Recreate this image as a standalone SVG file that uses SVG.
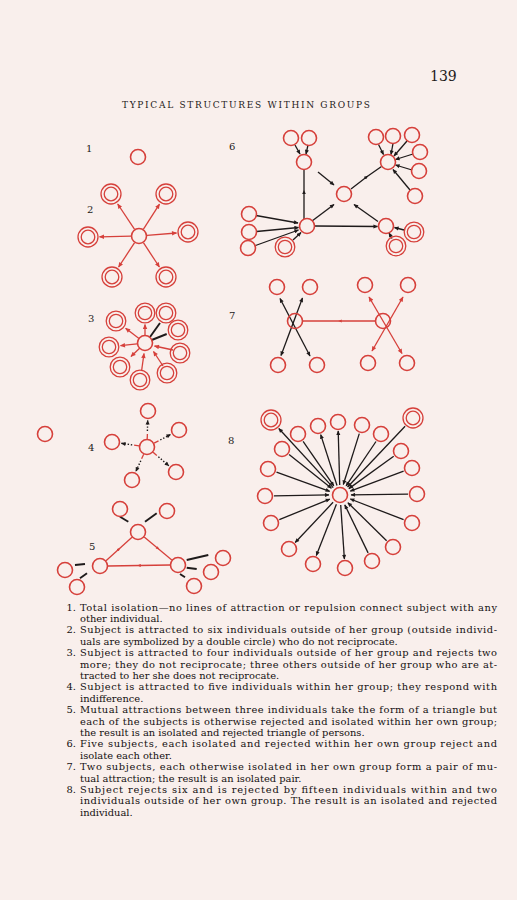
<svg xmlns="http://www.w3.org/2000/svg" width="517" height="900" viewBox="0 0 517 900">
<style>
.bg{fill:#f9efec}
.c{fill:none;stroke:#d6403b;stroke-width:1.6}
.o{fill:none;stroke:#d6403b;stroke-width:1.3}
.r{fill:none;stroke:#d6403b;stroke-width:1.3}
.k{fill:none;stroke:#1e1a1a;stroke-width:1.3}
.kt{fill:none;stroke:#1e1a1a;stroke-width:1.9}
.kd{fill:none;stroke:#1e1a1a;stroke-width:1.4;stroke-dasharray:1.4 1.8}
.ra{marker-end:url(#ar)}
.ka{marker-end:url(#ak)}
.kas{marker-start:url(#ak)}
.ras{marker-start:url(#ar)}
.rm{marker-mid:url(#am)}
.km{marker-mid:url(#akm)}
.t{font-family:"DejaVu Serif","Liberation Serif",serif;font-size:9.9px;fill:#141010}
.lb{font-family:"DejaVu Serif","Liberation Serif",serif;font-size:10px;fill:#1e1a1a}
</style>
<defs>
<marker id="ar" viewBox="0 0 10 10" refX="9" refY="5" markerWidth="6" markerHeight="5" markerUnits="userSpaceOnUse" orient="auto-start-reverse"><path d="M0,0.5 L10,5 L0,9.5 z" fill="#d6403b"/></marker>
<marker id="ak" viewBox="0 0 10 10" refX="9" refY="5" markerWidth="5.5" markerHeight="4.5" markerUnits="userSpaceOnUse" orient="auto-start-reverse"><path d="M0,0.5 L10,5 L0,9.5 z" fill="#1e1a1a"/></marker>
<marker id="am" viewBox="0 0 10 10" refX="5" refY="5" markerWidth="4" markerHeight="3.5" markerUnits="userSpaceOnUse" orient="auto"><path d="M0,0.5 L10,5 L0,9.5 z" fill="#d6403b"/></marker>
<marker id="akm" viewBox="0 0 10 10" refX="5" refY="5" markerWidth="4.5" markerHeight="4" markerUnits="userSpaceOnUse" orient="auto"><path d="M0,0.5 L10,5 L0,9.5 z" fill="#1e1a1a"/></marker>
<g id="dbl"><circle r="10" class="o"/><circle r="6.8" class="o"/></g>
<g id="dbs"><circle r="9.8" class="o"/><circle r="6.7" class="o"/></g>
<circle id="sg" r="7.5" class="c"/>
</defs>
<rect class="bg" x="0" y="0" width="517" height="900"/>

<text x="430" y="81" font-family="DejaVu Serif, Liberation Serif, serif" font-size="14" fill="#1e1a1a">139</text>
<text x="122" y="108" font-family="DejaVu Serif, Liberation Serif, serif" font-size="9" fill="#1e1a1a" textLength="248" lengthAdjust="spacing">TYPICAL STRUCTURES WITHIN GROUPS</text>

<g id="labels" class="lb">
<text x="86" y="152">1</text><text x="87" y="213">2</text><text x="88" y="322">3</text><text x="88" y="451">4</text><text x="89" y="550">5</text>
<text x="229" y="150">6</text><text x="229" y="319">7</text><text x="228" y="444">8</text>
</g>

<g id="connectors">
<!-- diagram 2 -->
<line class="r ra" x1="134.6" y1="229.3" x2="117.7" y2="204"/>
<line class="r ra" x1="143.3" y1="229.3" x2="159.5" y2="204.1"/>
<line class="r ra" x1="131" y1="236.2" x2="99.5" y2="236.8"/>
<line class="r ra" x1="147" y1="235.4" x2="176.5" y2="233"/>
<line class="r ra" x1="134.6" y1="242.7" x2="118.6" y2="267"/>
<line class="r ra" x1="143.4" y1="242.7" x2="159.4" y2="267"/>
<!-- diagram 3 -->
<line class="r ra" x1="145" y1="335" x2="145" y2="324.5"/>
<line class="r ra" x1="139" y1="338.5" x2="125.6" y2="328.3"/>
<line class="r ra" x1="137" y1="343.9" x2="120.5" y2="345.7"/>
<line class="r ra" x1="139.6" y1="348.2" x2="131" y2="356.5"/>
<line class="kt" x1="150" y1="337" x2="160" y2="323"/>
<line class="kt" x1="151.7" y1="340" x2="166.7" y2="334"/>
<line class="r ra" x1="173" y1="350" x2="154.5" y2="346"/>
<line class="r ra" x1="163" y1="366" x2="153.5" y2="351.5"/>
<line class="r ra" x1="141.7" y1="370" x2="144" y2="353.5"/>
<!-- diagram 4 -->
<line class="r" x1="147.2" y1="439" x2="147.4" y2="434"/>
<line class="kd ka" x1="147.4" y1="431" x2="147.7" y2="420.5"/>
<line class="r" x1="154.1" y1="443.2" x2="158.5" y2="440.9"/>
<line class="kd ka" x1="160.3" y1="439.9" x2="170.6" y2="434.5"/>
<line class="r" x1="139.1" y1="445.9" x2="134.1" y2="445.2"/>
<line class="kd ka" x1="132.2" y1="444.9" x2="121.4" y2="443.3"/>
<line class="r" x1="143.7" y1="454.3" x2="141.6" y2="458.8"/>
<line class="kd ka" x1="140.8" y1="460.7" x2="135.9" y2="471.3"/>
<line class="r" x1="153.1" y1="452.2" x2="156.8" y2="455.5"/>
<line class="kd ka" x1="158.4" y1="456.8" x2="168.8" y2="465.8"/>
<!-- diagram 5 -->
<polyline class="r rm" points="106,560.7 119,549 132,537.3"/>
<polyline class="r rm" points="144.2,537.1 158,548.5 171.8,559.9"/>
<polyline class="r rm" points="170,565 139,565.5 108,566"/>
<line class="kt" x1="120" y1="516.7" x2="128.3" y2="521.7"/>
<line class="kt" x1="156.7" y1="513.3" x2="145" y2="521.7"/>
<line class="kt" x1="75" y1="565" x2="85" y2="564"/>
<line class="kt" x1="80" y1="578.3" x2="87" y2="573.3"/>
<line class="kt" x1="208.3" y1="555" x2="186.7" y2="560"/>
<line class="kt" x1="196.7" y1="569" x2="186.7" y2="567.7"/>
<line class="kt" x1="185" y1="577.3" x2="180" y2="574"/>
<!-- diagram 6 -->
<line class="k ka" x1="295" y1="145" x2="300" y2="154"/>
<line class="k ka" x1="308" y1="145" x2="306" y2="154"/>
<line class="k ka" x1="318" y1="172" x2="334" y2="185"/>
<polyline class="k km" points="304,219 304,192 304,169.5"/>
<polyline class="k km" points="351,189 366.5,177 381.5,166.5"/>
<line class="k ka" x1="312" y1="221" x2="334" y2="204.5"/>
<line class="k ka" x1="378" y1="221.5" x2="354" y2="204.5"/>
<line class="k ka" x1="315" y1="226" x2="377.5" y2="226.5"/>
<line class="k ka" x1="256" y1="215.5" x2="298" y2="223"/>
<line class="k ka" x1="256.5" y1="231.5" x2="298.5" y2="227.5"/>
<line class="k ka" x1="255.5" y1="245.5" x2="298.5" y2="230"/>
<line class="k ka" x1="293" y1="240" x2="301" y2="232.5"/>
<line class="k ka" x1="404" y1="230" x2="394.5" y2="227.5"/>
<line class="k ka" x1="392" y1="238.5" x2="389" y2="233"/>
<line class="k ka" x1="378.5" y1="144.5" x2="383.5" y2="154.5"/>
<line class="k ka" x1="393" y1="143.5" x2="391" y2="154.5"/>
<line class="k ka" x1="407" y1="141" x2="394" y2="156"/>
<line class="k ka" x1="413" y1="154" x2="395.5" y2="159.5"/>
<line class="k ka" x1="412" y1="170" x2="395.5" y2="165"/>
<line class="k ka" x1="410" y1="190" x2="393" y2="169.5"/>
<!-- diagram 7 -->
<line class="k ka kas" x1="280" y1="298.5" x2="310" y2="356"/>
<line class="k ka kas" x1="302.5" y1="298" x2="281" y2="355.5"/>
<line class="r ra ras" x1="369" y1="297" x2="402" y2="353.5"/>
<line class="r ra ras" x1="403" y1="297" x2="372" y2="351"/>
<polyline class="r rm" points="375,321 340,321 303,321"/>
<!-- diagram 8 -->
<line class="k ka" x1="333.2" y1="487.6" x2="278.8" y2="428.5"/>
<line class="k ka" x1="289.1" y1="454.6" x2="331.4" y2="488.2"/>
<line class="k ka" x1="303.1" y1="441.4" x2="333.8" y2="485.9"/>
<line class="k ka" x1="337" y1="485.5" x2="320.7" y2="434.6"/>
<line class="k ka" x1="339.7" y1="485" x2="338.2" y2="431"/>
<line class="k ka" x1="359.3" y1="433.6" x2="343.3" y2="484.5"/>
<line class="k ka" x1="376" y1="441.5" x2="346.1" y2="485.9"/>
<line class="k ka" x1="405.1" y1="426.3" x2="347.6" y2="487"/>
<line class="k ka" x1="393.7" y1="456.3" x2="348.9" y2="488.6"/>
<line class="k ka" x1="403.6" y1="471.2" x2="350.3" y2="491.1"/>
<line class="k ka" x1="408" y1="494.1" x2="351" y2="494.9"/>
<line class="k ka" x1="403.6" y1="519.7" x2="350.3" y2="499"/>
<line class="k ka" x1="386.6" y1="540.7" x2="347.9" y2="502.7"/>
<line class="k ka" x1="368.1" y1="552.9" x2="344.8" y2="504.9"/>
<line class="k ka" x1="340.7" y1="505" x2="344.4" y2="559"/>
<line class="k ka" x1="336.4" y1="504.3" x2="316.3" y2="555.6"/>
<line class="k ka" x1="333.1" y1="502.3" x2="295.2" y2="542.5"/>
<line class="k ka" x1="279.3" y1="519.6" x2="329.8" y2="499.1"/>
<line class="k ka" x1="274" y1="495.9" x2="329" y2="494.9"/>
<line class="k ka" x1="276.5" y1="472.1" x2="329.7" y2="491.3"/>
</g>

<!-- diagram 1 -->
<g id="d1-subject"><use href="#sg" x="138" y="157"/></g>
<!-- diagram 2 -->
<g id="d2-subject"><use href="#sg" x="139" y="236"/></g>
<g id="d2-o1"><use href="#dbl" x="111" y="194"/></g>
<g id="d2-o2"><use href="#dbl" x="166" y="194"/></g>
<g id="d2-o3"><use href="#dbl" x="88" y="237"/></g>
<g id="d2-o4"><use href="#dbl" x="188" y="232"/></g>
<g id="d2-o5"><use href="#dbl" x="112" y="277"/></g>
<g id="d2-o6"><use href="#dbl" x="166" y="277"/></g>
<!-- diagram 3 -->
<g id="d3-subject"><use href="#sg" x="145" y="343"/></g>
<g id="d3-o1"><use href="#dbs" x="145" y="313"/></g>
<g id="d3-o2"><use href="#dbs" x="166" y="313"/></g>
<g id="d3-o3"><use href="#dbs" x="178" y="330"/></g>
<g id="d3-o4"><use href="#dbs" x="180" y="353"/></g>
<g id="d3-o5"><use href="#dbs" x="167" y="373"/></g>
<g id="d3-o6"><use href="#dbs" x="140" y="380"/></g>
<g id="d3-o7"><use href="#dbs" x="120" y="367"/></g>
<g id="d3-o8"><use href="#dbs" x="109" y="347"/></g>
<g id="d3-o9"><use href="#dbs" x="116" y="321"/></g>
<!-- diagram 4 -->
<g id="d4-isolate"><use href="#sg" x="45" y="434"/></g>
<g id="d4-subject"><use href="#sg" x="147" y="447"/></g>
<g id="d4-m1"><use href="#sg" x="148" y="411"/></g>
<g id="d4-m2"><use href="#sg" x="179" y="430"/></g>
<g id="d4-m3"><use href="#sg" x="112" y="442"/></g>
<g id="d4-m4"><use href="#sg" x="132" y="480"/></g>
<g id="d4-m5"><use href="#sg" x="176" y="472"/></g>
<!-- diagram 5 -->
<g id="d5-top"><use href="#sg" x="138" y="532"/></g>
<g id="d5-left"><use href="#sg" x="100" y="566"/></g>
<g id="d5-right"><use href="#sg" x="178" y="565"/></g>
<g id="d5-m1"><use href="#sg" x="120" y="509"/></g>
<g id="d5-m2"><use href="#sg" x="167" y="511"/></g>
<g id="d5-m3"><use href="#sg" x="65" y="570"/></g>
<g id="d5-m4"><use href="#sg" x="77" y="587"/></g>
<g id="d5-m5"><use href="#sg" x="223" y="558"/></g>
<g id="d5-m6"><use href="#sg" x="211" y="572"/></g>
<g id="d5-m7"><use href="#sg" x="194" y="586"/></g>
<!-- diagram 6 -->
<g id="d6-a"><use href="#sg" x="304" y="162"/></g>
<g id="d6-b"><use href="#sg" x="344" y="194"/></g>
<g id="d6-c"><use href="#sg" x="388" y="162"/></g>
<g id="d6-d"><use href="#sg" x="307" y="226"/></g>
<g id="d6-e"><use href="#sg" x="386" y="226"/></g>
<g id="d6-a1"><use href="#sg" x="291" y="138"/></g>
<g id="d6-a2"><use href="#sg" x="309" y="138"/></g>
<g id="d6-c1"><use href="#sg" x="376" y="137"/></g>
<g id="d6-c2"><use href="#sg" x="393" y="136"/></g>
<g id="d6-c3"><use href="#sg" x="412" y="135"/></g>
<g id="d6-c4"><use href="#sg" x="420" y="152"/></g>
<g id="d6-c5"><use href="#sg" x="419" y="171"/></g>
<g id="d6-c6"><use href="#sg" x="415" y="196"/></g>
<g id="d6-d1"><use href="#sg" x="249" y="214"/></g>
<g id="d6-d2"><use href="#sg" x="249" y="232"/></g>
<g id="d6-d3"><use href="#sg" x="248" y="248"/></g>
<g id="d6-d4"><use href="#dbs" x="285" y="247"/></g>
<g id="d6-e1"><use href="#dbs" x="414" y="232"/></g>
<g id="d6-e2"><use href="#dbs" x="396" y="246"/></g>
<!-- diagram 7 -->
<g id="d7-left"><use href="#sg" x="295" y="321"/></g>
<g id="d7-right"><use href="#sg" x="383" y="321"/></g>
<g id="d7-l1"><use href="#sg" x="277" y="287"/></g>
<g id="d7-l2"><use href="#sg" x="310" y="287"/></g>
<g id="d7-l3"><use href="#sg" x="278" y="365"/></g>
<g id="d7-l4"><use href="#sg" x="317" y="365"/></g>
<g id="d7-r1"><use href="#sg" x="365" y="285"/></g>
<g id="d7-r2"><use href="#sg" x="408" y="285"/></g>
<g id="d7-r3"><use href="#sg" x="368" y="363"/></g>
<g id="d7-r4"><use href="#sg" x="407" y="363"/></g>
<!-- diagram 8 -->
<g id="d8-subject"><use href="#sg" x="340" y="495"/></g>
<g id="d8-o1"><use href="#dbl" x="271" y="420"/></g>
<g id="d8-o2"><use href="#dbl" x="413" y="418"/></g>
<g id="d8-m1"><use href="#sg" x="282" y="449"/></g>
<g id="d8-m2"><use href="#sg" x="298" y="434"/></g>
<g id="d8-m3"><use href="#sg" x="318" y="426"/></g>
<g id="d8-m4"><use href="#sg" x="338" y="422"/></g>
<g id="d8-m5"><use href="#sg" x="362" y="425"/></g>
<g id="d8-m6"><use href="#sg" x="381" y="434"/></g>
<g id="d8-m7"><use href="#sg" x="401" y="451"/></g>
<g id="d8-m8"><use href="#sg" x="412" y="468"/></g>
<g id="d8-m9"><use href="#sg" x="417" y="494"/></g>
<g id="d8-m10"><use href="#sg" x="412" y="523"/></g>
<g id="d8-m11"><use href="#sg" x="393" y="547"/></g>
<g id="d8-m12"><use href="#sg" x="372" y="561"/></g>
<g id="d8-m13"><use href="#sg" x="345" y="568"/></g>
<g id="d8-m14"><use href="#sg" x="313" y="564"/></g>
<g id="d8-m15"><use href="#sg" x="289" y="549"/></g>
<g id="d8-m16"><use href="#sg" x="271" y="523"/></g>
<g id="d8-m17"><use href="#sg" x="265" y="496"/></g>
<g id="d8-m18"><use href="#sg" x="268" y="469"/></g>

<g id="legend" class="t">
<text x="76" y="610.5" text-anchor="end">1.</text>
<text x="80" y="610.5" textLength="417" lengthAdjust="spacing">Total isolation—no lines of attraction or repulsion connect subject with any</text>
<text x="80" y="621.9">other individual.</text>
<text x="76" y="633.3" text-anchor="end">2.</text>
<text x="80" y="633.3" textLength="417" lengthAdjust="spacing">Subject is attracted to six individuals outside of her group (outside individ-</text>
<text x="80" y="644.7">uals are symbolized by a double circle) who do not reciprocate.</text>
<text x="76" y="656.1" text-anchor="end">3.</text>
<text x="80" y="656.1" textLength="417" lengthAdjust="spacing">Subject is attracted to four individuals outside of her group and rejects two</text>
<text x="80" y="667.5" textLength="417" lengthAdjust="spacing">more; they do not reciprocate; three others outside of her group who are at-</text>
<text x="80" y="678.9">tracted to her she does not reciprocate.</text>
<text x="76" y="690.3" text-anchor="end">4.</text>
<text x="80" y="690.3" textLength="417" lengthAdjust="spacing">Subject is attracted to five individuals within her group; they respond with</text>
<text x="80" y="701.7">indifference.</text>
<text x="76" y="713.1" text-anchor="end">5.</text>
<text x="80" y="713.1" textLength="417" lengthAdjust="spacing">Mutual attractions between three individuals take the form of a triangle but</text>
<text x="80" y="724.5" textLength="417" lengthAdjust="spacing">each of the subjects is otherwise rejected and isolated within her own group;</text>
<text x="80" y="735.9">the result is an isolated and rejected triangle of persons.</text>
<text x="76" y="747.3" text-anchor="end">6.</text>
<text x="80" y="747.3" textLength="417" lengthAdjust="spacing">Five subjects, each isolated and rejected within her own group reject and</text>
<text x="80" y="758.7">isolate each other.</text>
<text x="76" y="770.1" text-anchor="end">7.</text>
<text x="80" y="770.1" textLength="417" lengthAdjust="spacing">Two subjects, each otherwise isolated in her own group form a pair of mu-</text>
<text x="80" y="781.5">tual attraction; the result is an isolated pair.</text>
<text x="76" y="792.9" text-anchor="end">8.</text>
<text x="80" y="792.9" textLength="417" lengthAdjust="spacing">Subject rejects six and is rejected by fifteen individuals within and two</text>
<text x="80" y="804.3" textLength="417" lengthAdjust="spacing">individuals outside of her own group. The result is an isolated and rejected</text>
<text x="80" y="815.7">individual.</text>
</g>
</svg>
